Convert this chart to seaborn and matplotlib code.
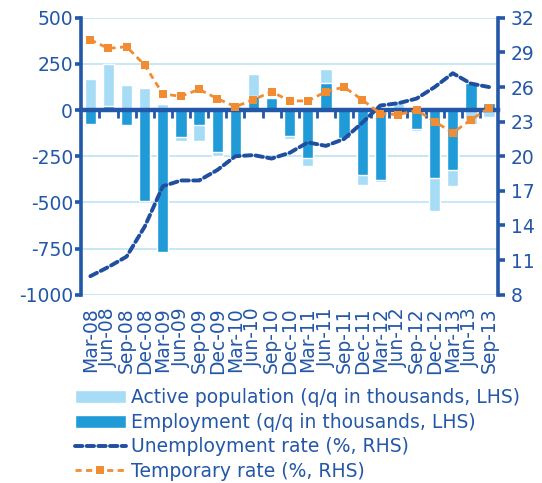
import pandas as pd
import seaborn as sns
import matplotlib.pyplot as plt

# quarterly data
quarters = ['Mar-08', 'Jun-08', 'Sep-08', 'Dec-08', 'Mar-09', 'Jun-09', 'Sep-09', 'Dec-09',
            'Mar-10', 'Jun-10', 'Sep-10', 'Dec-10', 'Mar-11', 'Jun-11', 'Sep-11', 'Dec-11',
            'Mar-12', 'Jun-12', 'Sep-12', 'Dec-12', 'Mar-13', 'Jun-13', 'Sep-13']
active_pop = [170, 250, 138, 118, 33, -168, -167, -248, 25, 195, 0, -157,
              -302, 224, -2, -405, -387, 38, -112, -547, -411, -75, -35]
employment = [-76, 20, -81, -492, -767, -148, -78, -228, -252, 78, 65, -141,
              -257, 147, -150, -351, -378, -16, -100, -366, -327, 147, 36]
unemployment = [9.6, 10.4, 11.3, 13.9, 17.4, 17.9, 17.9, 18.8, 20.0, 20.1, 19.8, 20.3,
                21.2, 20.9, 21.5, 22.9, 24.4, 24.6, 25.0, 26.0, 27.2, 26.3, 26.0]
temporary = [30.1, 29.35, 29.5, 27.9, 25.4, 25.2, 25.8, 25.0, 24.3, 24.9, 25.6, 24.8,
             24.8, 25.6, 26.0, 24.9, 23.7, 23.6, 24.0, 23.0, 22.05, 23.15, 24.2]

lhs_ticks = [-1000, -750, -500, -250, 0, 250, 500]
rhs_ticks = [8, 11, 14, 17, 20, 23, 26, 29, 32]

df = pd.DataFrame({'quarter': quarters, 'active': active_pop, 'employment': employment,
                   'unemployment': unemployment, 'temporary': temporary})

dark = '#2357a8'
light_bar = '#a6dcf6'
mid_bar = '#219bd7'
line_blue = '#1f4f9e'
orange = '#f28c32'
grid_col = '#bfe4f5'

sns.set_style('white')
plt.rcParams['font.family'] = ['DejaVu Sans']
plt.rcParams['axes.unicode_minus'] = False

fig = plt.figure(figsize=(5.42, 4.83), dpi=100)
ax = fig.add_axes([0.150, 0.390, 0.769, 0.573])

# bars (overlapping, employment in front)
sns.barplot(data=df, x='quarter', y='active', color=light_bar, saturation=1, width=0.62,
            errorbar=None, ax=ax, label='Active population (q/q in thousands, LHS)', zorder=2)
sns.barplot(data=df, x='quarter', y='employment', color=mid_bar, saturation=1, width=0.62,
            errorbar=None, ax=ax, label='Employment (q/q in thousands, LHS)', zorder=2)

ax.set_xlim(-0.5, len(quarters) - 0.5)
ax.set_ylim(-1000, 500)
ax.set_yticks(lhs_ticks)
ax.set_yticklabels([str(t) for t in lhs_ticks])
ax.set_xlabel('')
ax.set_ylabel('')
ax.yaxis.grid(True, color=grid_col, linewidth=1.2)
ax.set_axisbelow(True)
for s in ['top', 'right', 'bottom']:
    ax.spines[s].set_visible(False)
ax.spines['left'].set_color(dark)
ax.spines['left'].set_linewidth(2.6)
ax.tick_params(axis='y', direction='out', length=4, width=2.6, color=dark,
               labelcolor=dark, labelsize=13.5, pad=2)
ax.tick_params(axis='x', length=0, labelcolor=dark, labelsize=13.5, pad=9,
               labelrotation=90)

# zero line with boundary ticks
zero = ax.secondary_xaxis(1000 / 1500)
zero.set_alignment('bottom')
zero.set_xticks([i + 0.5 for i in range(len(quarters) - 1)])
zero.tick_params(direction='out', length=6, width=2, color=dark, labelbottom=False)
zero.spines['bottom'].set_color(dark)
zero.spines['bottom'].set_linewidth(3.2)
zero.set_zorder(3)

# rate lines on the right-hand axis
ax2 = ax.twinx()
sns.lineplot(data=df, x='quarter', y='unemployment', sort=False, ax=ax2, color=line_blue,
             linewidth=2.8, label='Unemployment rate (%, RHS)')
sns.lineplot(data=df, x='quarter', y='temporary', sort=False, ax=ax2, color=orange,
             linewidth=2.0, marker='s', markersize=6, markeredgewidth=0,
             label='Temporary rate (%, RHS)')
ax2.lines[0].set_dashes((1.9, 1.1))
ax2.lines[0].set_dash_capstyle('round')
ax2.lines[1].set_dashes((2.2, 1.6))
ax2.set_ylim(8, 32)
ax2.set_yticks(rhs_ticks)
ax2.set_ylabel('')
ax2.set_xlabel('')
ax2.grid(False)
for s in ['top', 'left', 'bottom']:
    ax2.spines[s].set_visible(False)
ax2.spines['right'].set_color(dark)
ax2.spines['right'].set_linewidth(2.6)
ax2.tick_params(axis='y', direction='out', length=5, width=2.6, color=dark,
                labelcolor=dark, labelsize=13.5, pad=4)

h1, l1 = ax.get_legend_handles_labels()
h2, l2 = ax2.get_legend_handles_labels()
if ax.get_legend():
    ax.get_legend().remove()
if ax2.get_legend():
    ax2.get_legend().remove()
leg = fig.legend(h1 + h2, l1 + l2, loc='upper left', bbox_to_anchor=(75 / 542, 1 - 388 / 483),
                 frameon=False, borderaxespad=0, borderpad=0, fontsize=13.5,
                 handlelength=2.7, handletextpad=0.3, labelspacing=0.3)
for t in leg.get_texts():
    t.set_color(dark)

fig.savefig('out.png', dpi=100)
